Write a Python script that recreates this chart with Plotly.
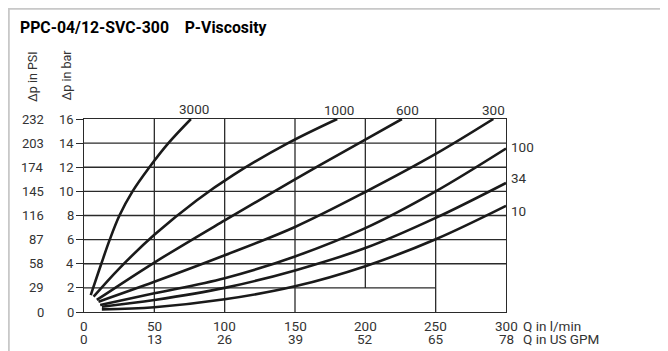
import plotly.graph_objects as go

# ---- data ----
flow_lpm_ticks = [0, 50, 100, 150, 200, 250, 300]
flow_gpm_labels = ["0", "13", "26", "39", "52", "65", "78"]
dp_bar_ticks = [0, 2, 4, 6, 8, 10, 12, 14, 16]
dp_psi_labels = ["0", "29", "58", "87", "116", "145", "174", "203", "232"]

viscosity_labels = ["3000", "1000", "600", "300", "100", "34", "10"]

q_3000 = [4.8, 6.5, 12.3, 18.3, 25.2, 34.5, 46.5, 60, 76]
dp_3000 = [1.4, 2, 4, 6, 8, 10, 12, 14, 16]
q_1000 = [6.8, 25, 50, 80, 106, 145, 180]
dp_1000 = [1.27, 3.6, 6.4, 9.25, 11.35, 14, 16]
q_600 = [9.1, 50, 100, 150, 200, 226]
dp_600 = [1.0, 4.1, 7.6, 11.0, 14.3, 16]
q_300 = [10.3, 50, 100, 150, 200, 250, 291]
dp_300 = [0.85, 2.5, 4.7, 7.05, 9.95, 13.1, 16]
q_100 = [11.5, 50, 100, 150, 200, 250, 300]
dp_100 = [0.58, 1.55, 2.8, 4.6, 6.95, 10.0, 13.55]
q_34 = [12.7, 50, 100, 150, 200, 250, 300]
dp_34 = [0.44, 1.0, 2.0, 3.45, 5.3, 7.8, 10.7]
q_10 = [12.7, 50, 100, 150, 200, 250, 300]
dp_10 = [0.22, 0.4, 1.05, 2.13, 3.8, 6.03, 8.8]

# grid segments of the printed diagram (not a regular grid)
v_grid_q = [50, 100, 150, 200, 250]
v_grid_from = [0, 0, 0, 2, 0]
h_grid_dp = [2, 4, 6, 8, 10, 12, 14]
h_grid_to = [250, 300, 300, 300, 300, 300, 300]

curves = [
    (q_3000, dp_3000), (q_1000, dp_1000), (q_600, dp_600), (q_300, dp_300),
    (q_100, dp_100), (q_34, dp_34), (q_10, dp_10),
]

FONT = "Roboto"
INK = "#1a1a1a"
GREY_TXT = "#333333"

# the page body has an 8px margin, so the figure starts at (8, 8) on screen
OFF = 8
W, H = 668 - OFF, 351 - OFF
ML, MR, MT, MB = 76, 162, 111, 39
PW, PH = W - ML - MR, H - MT - MB


def px_x(px):
    # screen pixel -> paper x
    return (px - OFF - ML) / PW


def px_y(py):
    # screen pixel -> paper y
    return (H - MB - (py - OFF)) / PH


fig = go.Figure()

for (q, dp), name in zip(curves, viscosity_labels):
    fig.add_trace(go.Scatter(
        x=q, y=dp, mode="lines", name=name,
        line=dict(color=INK, width=2.6, shape="spline", smoothing=1),
        showlegend=False, hoverinfo="skip"
    ))

shapes = []
for vx, v0 in zip(v_grid_q, v_grid_from):
    shapes.append(dict(type="line", xref="x", yref="y", x0=vx, x1=vx, y0=v0, y1=16,
                       line=dict(color="#2a2a2a", width=1.3), layer="below"))
for hy, h1 in zip(h_grid_dp, h_grid_to):
    shapes.append(dict(type="line", xref="x", yref="y", x0=0, x1=h1, y0=hy, y1=hy,
                       line=dict(color="#2a2a2a", width=1.3), layer="below"))
# light outer frame of the sheet
shapes.append(dict(type="rect", xref="paper", yref="paper",
                   x0=px_x(8.8), x1=px_x(720), y0=px_y(400), y1=px_y(8.8),
                   line=dict(color="#c8c8c8", width=2), fillcolor="rgba(0,0,0,0)",
                   layer="below"))

ann = []
# title
ann.append(dict(text="<b>PPC-04/12-SVC-300\u00a0\u00a0\u00a0\u00a0P-Viscosity</b>",
                xref="paper", yref="paper", x=px_x(18), y=px_y(27),
                xanchor="left", yanchor="middle", showarrow=False,
                font=dict(family=FONT, size=15.8, color="#000")))
# axis titles
ann.append(dict(text="\u0394p in PSI", textangle=-90, xref="paper", yref="paper",
                x=px_x(32.5), y=px_y(76.5), xanchor="center", yanchor="middle",
                showarrow=False, font=dict(family=FONT, size=12.5, color=GREY_TXT)))
ann.append(dict(text="\u0394p in bar", textangle=-90, xref="paper", yref="paper",
                x=px_x(66), y=px_y(75.5), xanchor="center", yanchor="middle",
                showarrow=False, font=dict(family=FONT, size=12.5, color=GREY_TXT)))
# y tick labels (bar and PSI)
for v, psi in zip(dp_bar_ticks, dp_psi_labels):
    ann.append(dict(text=str(v), xref="paper", yref="y", x=px_x(76), y=v,
                    xanchor="right", yanchor="middle", showarrow=False,
                    font=dict(family=FONT, size=13, color=GREY_TXT)))
    ann.append(dict(text=psi, xref="paper", yref="y", x=px_x(46), y=v,
                    xanchor="right", yanchor="middle", showarrow=False,
                    font=dict(family=FONT, size=13, color=GREY_TXT)))
# x tick labels (l/min and US GPM)
for q, gpm in zip(flow_lpm_ticks, flow_gpm_labels):
    ann.append(dict(text=str(q), xref="x", yref="paper", x=q, y=px_y(325.5),
                    xanchor="center", yanchor="middle", showarrow=False,
                    font=dict(family=FONT, size=13.5, color=GREY_TXT)))
    ann.append(dict(text=gpm, xref="x", yref="paper", x=q, y=px_y(339),
                    xanchor="center", yanchor="middle", showarrow=False,
                    font=dict(family=FONT, size=13.5, color=GREY_TXT)))
ann.append(dict(text="Q in l/min", xref="paper", yref="paper", x=px_x(521), y=px_y(325.5),
                xanchor="left", yanchor="middle", showarrow=False,
                font=dict(family=FONT, size=13.5, color=GREY_TXT)))
ann.append(dict(text="Q in US GPM", xref="paper", yref="paper", x=px_x(521), y=px_y(339),
                xanchor="left", yanchor="middle", showarrow=False,
                font=dict(family=FONT, size=13.5, color=GREY_TXT)))

# viscosity labels at the curve ends
label_shift = {"3000": (3, 10), "1000": (2, 9), "600": (6, 9), "300": (0, 9),
               "100": (3, 2), "34": (3, 5), "10": (3, -5)}
for (q, dp), name in zip(curves, viscosity_labels):
    dx, dy = label_shift[name]
    on_right = q[-1] >= 299
    ann.append(dict(text=name, xref="x", yref="y", x=q[-1], y=dp[-1],
                    xshift=dx, yshift=dy,
                    xanchor="left" if on_right else "center", yanchor="middle",
                    showarrow=False,
                    font=dict(family=FONT, size=13.5, color=GREY_TXT)))

fig.update_layout(
    width=W, height=H,
    margin=dict(l=ML, r=MR, t=MT, b=MB),
    paper_bgcolor="white", plot_bgcolor="white",
    shapes=shapes, annotations=ann,
    xaxis=dict(range=[0, 300], showgrid=False, zeroline=False, showline=True,
               linecolor="#2a2a2a", linewidth=1.3, mirror=True,
               showticklabels=False, ticks="", fixedrange=True),
    yaxis=dict(range=[0, 16], showgrid=False, zeroline=False, showline=True,
               linecolor="#2a2a2a", linewidth=1.3, mirror=True,
               tickvals=dp_bar_ticks, ticks="outside", ticklen=7, tickwidth=1.3,
               tickcolor="#2a2a2a", showticklabels=False, fixedrange=True),
)

fig.write_html("out.html")
